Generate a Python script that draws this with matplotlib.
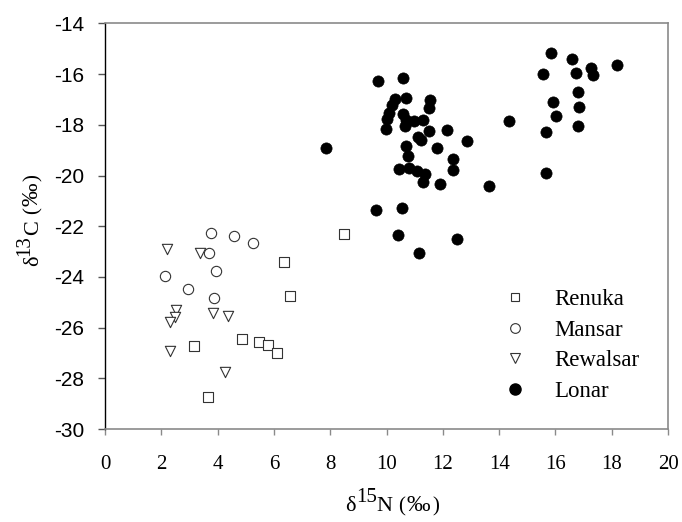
import matplotlib
matplotlib.use("Agg")
import matplotlib.pyplot as plt
from matplotlib.lines import Line2D
from matplotlib.transforms import IdentityTransform

# delta 15N / delta 13C per lake
renuka_n = [8.49, 6.36, 6.58, 4.88, 5.47, 5.79, 6.12, 3.17, 3.65]
renuka_c = [-22.31, -23.39, -24.74, -26.46, -26.57, -26.67, -27.01, -26.74, -28.72]

mansar_n = [3.75, 4.58, 5.25, 3.69, 3.94, 2.14, 2.94, 3.88]
mansar_c = [-22.26, -22.37, -22.66, -23.06, -23.75, -23.98, -24.49, -24.83]

rewalsar_n = [2.20, 3.36, 2.52, 2.49, 2.31, 3.82, 4.36, 2.30, 4.26]
rewalsar_c = [-22.89, -23.06, -25.31, -25.57, -25.78, -25.44, -25.55, -26.92, -27.76]

lonar_n = [9.69, 10.57, 10.31, 10.69, 11.56, 11.51, 10.20, 10.10, 10.03, 10.60,
           10.69, 10.98, 11.29, 9.98, 10.67, 11.52, 12.14, 11.11, 11.21, 12.85,
           14.35, 10.70, 11.80, 10.76, 12.37, 10.46, 10.80, 11.10, 11.37, 12.35,
           11.31, 11.90, 13.63, 7.85, 9.63, 10.55, 10.41, 12.50, 11.14,
           15.83, 16.59, 17.26, 17.34, 18.20, 15.57, 16.72, 16.81, 15.93, 16.84,
           16.02, 16.81, 15.67, 15.65]
lonar_c = [-16.25, -16.16, -16.96, -16.92, -17.00, -17.33, -17.22, -17.53, -17.75, -17.58,
           -17.81, -17.85, -17.81, -18.16, -18.05, -18.25, -18.20, -18.47, -18.60, -18.62,
           -17.85, -18.84, -18.90, -19.22, -19.33, -19.73, -19.72, -19.81, -19.92, -19.76,
           -20.26, -20.34, -20.43, -18.90, -21.36, -21.28, -22.34, -22.49, -23.05,
           -15.16, -15.40, -15.74, -16.03, -15.62, -16.00, -15.95, -16.72, -17.10, -17.31,
           -17.66, -18.05, -18.27, -19.89]

lakes = ['Renuka', 'Mansar', 'Rewalsar', 'Lonar']
x_ticks = list(range(0, 21, 2))
y_ticks = list(range(-30, -13, 2))

SERIF = 'Liberation Serif'
SANS = 'Liberation Sans'


def rich_label(fig, parts, center, baseline, vertical=False):
    """Draw a label made of pieces (text, size, rise_px, gap_px) in pixel coords."""
    renderer = fig.canvas.get_renderer()
    widths = []
    for s, size, rise, gap in parts:
        t = fig.text(0, 0, s, fontsize=size, family=SERIF)
        widths.append(t.get_window_extent(renderer).width)
        t.remove()
    total = sum(widths) + sum(p[3] for p in parts[:-1])
    pos = center - total / 2
    for (s, size, rise, gap), w in zip(parts, widths):
        if vertical:
            fig.text(baseline - rise, pos, s, fontsize=size, family=SERIF,
                     rotation=90, rotation_mode='anchor', ha='left', va='baseline',
                     transform=IdentityTransform())
        else:
            fig.text(pos, baseline + rise, s, fontsize=size, family=SERIF,
                     ha='left', va='baseline', transform=IdentityTransform())
        pos += w + gap


fig = plt.figure(figsize=(6.82, 5.22), dpi=100)
ax = fig.add_axes([0.154, 0.178, 0.8255, 0.777])

edge = '#333333'
ax.scatter(renuka_n, renuka_c, s=45, marker='s', facecolors='white', edgecolors=edge, linewidths=0.8, zorder=3)
ax.scatter(mansar_n, mansar_c, s=55, marker='o', facecolors='white', edgecolors=edge, linewidths=0.8, zorder=3)
ax.scatter(rewalsar_n, rewalsar_c, s=55, marker='v', facecolors='white', edgecolors=edge, linewidths=0.8, zorder=3)
ax.scatter(lonar_n, lonar_c, s=65, marker='o', facecolors='black', edgecolors='black', linewidths=0.5, zorder=3)

ax.set_xlim(0, 20)
ax.set_ylim(-30, -14)
ax.set_xticks(x_ticks)
ax.set_yticks(y_ticks)
ax.set_xticklabels([str(v) for v in x_ticks], fontfamily=SERIF, fontsize=15)
ax.set_yticklabels([str(v) for v in y_ticks], fontfamily=SANS, fontsize=15)

for side in ['top', 'right', 'bottom']:
    ax.spines[side].set_color('#8a8a8a')
    ax.spines[side].set_linewidth(1.2)
ax.spines['left'].set_color('black')
ax.spines['left'].set_linewidth(1.0)

ax.tick_params(axis='x', direction='out', length=4, width=1, color='#8a8a8a', pad=15)
ax.tick_params(axis='y', direction='out', length=5, width=1, color='#555555', pad=10)

handles = [
    Line2D([], [], ls='none', marker='s', ms=6, mfc='white', mec=edge, mew=0.8),
    Line2D([], [], ls='none', marker='o', ms=7, mfc='white', mec=edge, mew=0.8),
    Line2D([], [], ls='none', marker='v', ms=7, mfc='white', mec=edge, mew=0.8),
    Line2D([], [], ls='none', marker='o', ms=8, mfc='black', mec='black'),
]
ax.legend(handles, lakes, frameon=False,
          loc='lower left', bbox_to_anchor=(0.672, 0.015),
          prop={'family': SERIF, 'size': 16.5},
          handlelength=1.0, handletextpad=1.2, labelspacing=0.43)

# axis titles: delta with full-size raised isotope number, smaller per-mille part
rich_label(fig, [('δ', 16, 0, 0), ('15', 15, 9, 0), ('N', 16, 0, 6),
                 ('(', 15, 0, 1), ('‰', 17, 0, 2), (')', 15, 0, 0)],
           center=392, baseline=11)
rich_label(fig, [('δ', 16, 0, 0), ('13', 15, 9, 0), ('C', 16, 0, 6),
                 ('(', 15, 0, 1), ('‰', 17, 0, 2), (')', 15, 0, 0)],
           center=302, baseline=38, vertical=True)

fig.savefig('out.png', dpi=100)
